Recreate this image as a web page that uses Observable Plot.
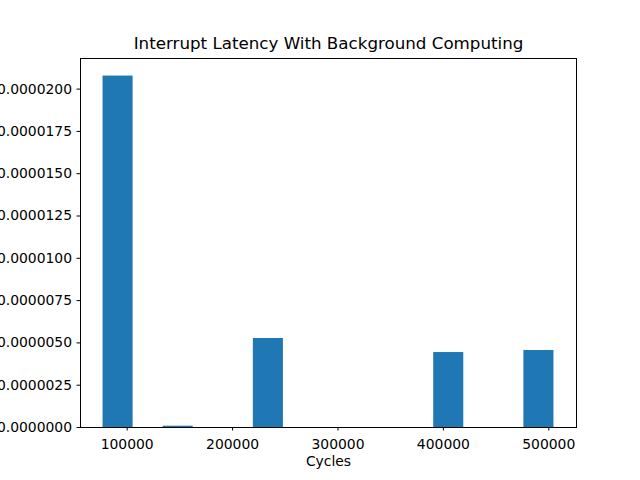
<!DOCTYPE html>
<html>
<head>
<meta charset="utf-8">
<script src="https://cdn.jsdelivr.net/npm/d3@7"></script>
<script src="https://cdn.jsdelivr.net/npm/@observablehq/plot@0.6"></script>
<style>
  html, body { margin: 0; padding: 0; background: white; }
  #chart svg { overflow: hidden; display: block; }
</style>
</head>
<body>
<div id="chart"></div>
<script>
// Histogram bin edges (cycles) and density per bin
const binEdges = [77100, 105620, 134140, 162660, 191180, 219700, 248220, 276740,
                  305260, 333780, 362300, 390820, 419340, 447860, 476380, 504900];
const density = [2.077e-5, 0, 7.7e-8, 0, 0, 5.26e-6, 0, 0, 0, 0, 0, 4.43e-6, 0, 0, 4.55e-6];
const xTicks = [100000, 200000, 300000, 400000, 500000];
const yTicks = [0, 0.0000025, 0.000005, 0.0000075, 0.00001, 0.0000125, 0.000015, 0.0000175, 0.00002];
const titleText = "Interrupt Latency With Background Computing";
const xLabel = "Cycles";

const bins = density.map((d, i) => ({x1: binEdges[i], x2: binEdges[i + 1], y: d}));
const lo = binEdges[0], hi = binEdges[binEdges.length - 1];
const pad = (hi - lo) * 0.05;
const yMax = d3.max(density) * 1.05;

const font = "DejaVu Sans, sans-serif";

const chart = Plot.plot({
  width: 640,
  height: 480,
  marginLeft: 80,
  marginRight: 64,
  marginTop: 58,
  marginBottom: 53,
  style: {fontFamily: font, fontSize: "13.9px", color: "black", background: "white", overflow: "hidden"},
  x: {domain: [lo - pad, hi + pad], label: null},
  y: {domain: [0, yMax], label: null},
  marks: [
    Plot.rectY(bins.filter(d => d.y > 0), {x1: "x1", x2: "x2", y1: 0, y2: "y", fill: "#1f77b4", inset: 0}),
    Plot.axisX({ticks: xTicks, tickFormat: d3.format("d"), tickSize: 3.5, tickPadding: 8, label: null, fontSize: 13.9}),
    Plot.axisY({ticks: yTicks, tickFormat: d3.format(".7f"), tickSize: 3.5, tickPadding: 5, label: null, fontSize: 13.9}),
    Plot.frame({stroke: "black", strokeWidth: 1}),
    Plot.text([titleText], {frameAnchor: "top", dy: -15, text: d => d, fontSize: 16.7, fill: "black", lineAnchor: "middle"}),
    Plot.text([xLabel], {frameAnchor: "bottom", dy: 34, text: d => d, fontSize: 13.9, fill: "black", lineAnchor: "middle"})
  ]
});
document.getElementById("chart").appendChild(chart);
</script>
</body>
</html>
